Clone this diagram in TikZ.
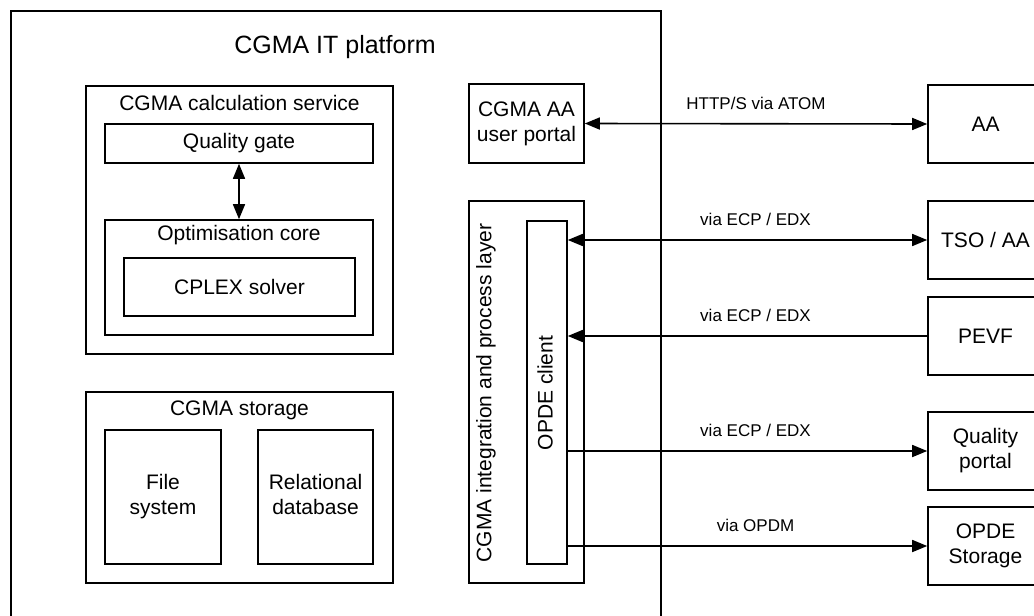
\documentclass[tikz,border=0pt]{standalone}
\usepackage{fontspec}
\setmainfont{Liberation Sans}
\usetikzlibrary{arrows.meta,calc}

\newcommand\cgboxfont{\fontsize{21}{25}\selectfont}
\newcommand\cglblfont{\fontsize{17}{20}\selectfont}
\newcommand\cgtitlefont{\fontsize{25}{30}\selectfont}

\tikzset{cgtip/.tip={Triangle[length=15pt,width=12pt]}}

\begin{document}
\begin{tikzpicture}[x=1pt,y=-1pt,
  box/.style={draw, line width=1.6pt, inner sep=0pt, align=center, font=\cgboxfont},
  ttl/.style={inner sep=0pt, align=center, font=\cgboxfont},
  link/.style={line width=1.6pt},
  both/.style={link, cgtip-cgtip},
  fwd/.style={link, -cgtip},
  lbl/.style={inner sep=0pt, font=\cglblfont},
  ext/.style={box, minimum width=115pt, minimum height=78pt}
]
\useasboundingbox (0,0) rectangle (1034,616);
\clip (0,0) rectangle (1034,616);

% platform frame and its title
\node[box, anchor=north west, minimum width=650pt, minimum height=660pt] (platform) at (10,10) {};
\node[inner sep=0pt, font=\cgtitlefont] (platformtitle) at (335,47) {CGMA IT platform};

% calculation service
\node[box, minimum width=307pt, minimum height=268pt] (calcsvc) at (239.5,220) {};
\node[ttl] (calcsvctitle) at (239.5,103) {CGMA calculation service};
\node[box, minimum width=268pt, minimum height=39pt] (qgate) at (239,143.5) {Quality gate};
\node[box, minimum width=268pt, minimum height=115pt] (optcore) at (239,277.5) {};
\node[ttl] (optcoretitle) at (239,235) {Optimisation core};
\node[box, minimum width=231pt, minimum height=58pt] (cplex) at (239.5,287) {CPLEX solver};
\draw[both] (qgate.south) -- (optcore.north);

% storage
\node[box, minimum width=307pt, minimum height=191pt] (storage) at (239.5,487.5) {};
\node[ttl] (storagetitle) at (239.5,410) {CGMA storage};
\node[box, minimum width=116pt, minimum height=134pt] (filesys) at (163,497) {File\\system};
\node[box, minimum width=115pt, minimum height=134pt] (reldb) at (315.5,497) {Relational\\database\vphantom{y}};

% portal and integration layer
\node[box, minimum width=115pt, minimum height=79pt] (portal) at (526.5,123.5) {CGMA AA\\user portal};
\node[box, minimum width=115pt, minimum height=382pt] (integ) at (526.5,392) {};
\node[ttl, rotate=90] (integtitle) at (486,393) {CGMA integration and process layer};
\node[box, minimum width=40pt, minimum height=343pt] (opde) at (547,392.5) {};
\node[ttl, rotate=90] (opdetitle) at (545,393) {OPDE client};

% external parties
\node[ext] (aa) at (985.5,124) {AA};
\node[ext] (tso) at (985.5,240) {TSO / AA};
\node[ext] (pevf) at (985.5,336) {PEVF};
\node[ext] (qportal) at (985.5,451) {Quality\\portal};
\node[ext] (ostore) at (985.5,546) {OPDE\\Storage};

% interfaces
\draw[both] (portal.east) -- (aa.west)
  node[lbl, midway, yshift=20pt] (l1) {HTTP/S via ATOM};
\draw[both] (opde.east |- tso.west) -- (tso.west)
  node[lbl, midway, yshift=21pt, xshift=8pt] (l2) {via ECP / EDX};
\draw[fwd] (pevf.west) -- (opde.east |- pevf.west)
  node[lbl, midway, yshift=21pt, xshift=8pt] (l3) {via ECP / EDX};
\draw[fwd] (opde.east |- qportal.west) -- (qportal.west)
  node[lbl, midway, yshift=21pt, xshift=8pt] (l4) {via ECP / EDX};
\draw[fwd] (opde.east |- ostore.west) -- (ostore.west)
  node[lbl, midway, yshift=21pt, xshift=8pt] (l5) {via OPDM};
\end{tikzpicture}
\end{document}
